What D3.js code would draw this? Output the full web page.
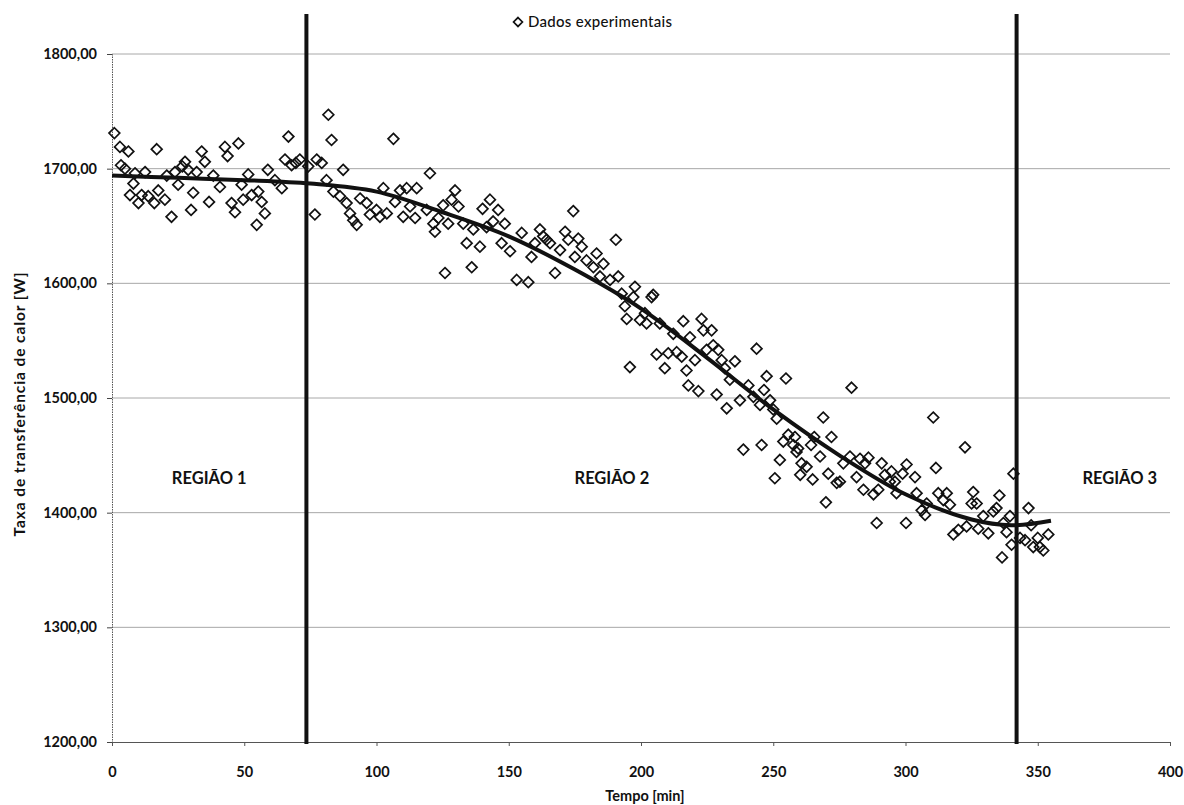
<!DOCTYPE html>
<html>
<head>
<meta charset="utf-8">
<script src="https://cdn.jsdelivr.net/npm/d3@7/dist/d3.min.js"></script>
<style>
  html, body { margin: 0; padding: 0; background: #fff; }
  svg { display: block; font-family: Lato, "Open Sans", sans-serif; }
</style>
</head>
<body>
<svg id="chart" width="1184" height="805"></svg>
<script>
// Experimental heat transfer rate readings: time [min] and rate [W]
const tempo = [
  0.9, 3, 3.4, 4.9, 6.2, 6.8, 8.1, 8.7, 10, 11.2, 12.5, 13.7, 16, 16.9, 17.5, 20, 20.7,
  22.5, 23.8, 25, 26.6, 27.6, 28.8, 29.9, 30.7, 32, 33.9, 35.1, 36.7, 38.3, 40.8, 42.7,
  43.7, 45.2, 46.5, 47.8, 49, 49.6, 51.5, 52.8, 54.7, 55.3, 56.6, 57.8, 58.9, 61.6, 64.2,
  65.4, 66.7, 67.9, 69.5, 71, 74.2,
  76.7, 77.4, 79.3, 81.1, 81.8, 83, 83.7, 86.2, 87.4, 88.7, 90, 91.2, 92.5, 93.8, 96.3,
  97.5, 100, 101.3, 102.6, 103.9, 106.4, 107, 108.9, 110.1, 111.4, 112.7, 114.6, 115.2,
  119, 120.2, 121.5, 122.1, 123.4, 125.2, 125.9, 127.1, 128.4, 129.7, 131, 132.8, 134.1,
  136, 136.6, 139.1, 140.1, 141.6, 142.9, 144.1, 146, 147.3, 148.5, 150.5, 153, 154.9,
  157.4, 158.6, 159.9, 161.8, 163, 164.3, 165.6, 167.5, 169.4, 171.3, 172.5, 174.4, 175,
  176.3, 177.6, 179.4, 182, 183.2, 184.5, 185.8, 188.3, 190.5, 191.4, 192.7, 193.9, 194.6,
  195.8, 197.1, 197.7, 199.6, 201.5, 202.1, 204, 204.6, 205.9, 207.1, 209, 210.3, 212.2,
  213.5, 215.4, 216, 217.2, 217.9, 218.5, 220.4, 221.7, 222.9, 223.6, 224.8, 226.7, 227.3,
  228.6, 229.2, 230.5, 231.7, 232.4, 233.6, 235.5, 237.4, 238.7, 240.6, 242.5, 243.7, 245,
  245.6, 246.5, 247.5, 248.8, 250, 250.6, 251.3, 252.5, 253.8, 254.8, 255.7, 257.6, 258.8,
  258.2, 259.4, 260.7, 260.2, 262.6, 264.3, 264.9, 265.5, 267.7, 268.9, 269.9, 270.8, 272,
  274, 275.2, 276.5, 279, 279.6, 281.5, 282.8, 284.1, 284.7, 286, 287.9, 289.1, 289.7, 291,
  292.2, 294.1, 294.7, 296, 296.6, 298.9, 300.2, 300.4, 303.6, 304.2, 306.1, 307.4, 308,
  310.5, 311.5, 312.4, 314.3, 315.6, 316.8, 318.1, 320, 322.5, 323.1, 325, 325.6, 326.9,
  327.5, 329.4, 331.3, 333.2, 334.4, 335.5, 336.5, 337, 338.2, 339.5, 340.1, 340.8,
  343.3, 345.2, 346.5, 347.5, 348.3, 350, 350.8, 352.1, 354
];
const taxa = [
  1731, 1719, 1703, 1700, 1715, 1677, 1687, 1696, 1670, 1677, 1697, 1676, 1670, 1717, 1681, 1673, 1694,
  1658, 1697, 1686, 1702, 1706, 1699, 1664, 1679, 1697, 1715, 1706, 1671, 1694, 1684, 1719,
  1711, 1670, 1662, 1722, 1686, 1673, 1695, 1677, 1651, 1680, 1671, 1661, 1699, 1690, 1683,
  1708, 1728, 1703, 1705, 1708, 1702,
  1660, 1708, 1705, 1690, 1747, 1725, 1680, 1676, 1699, 1670, 1661, 1655, 1651, 1674, 1670,
  1660, 1664, 1658, 1683, 1661, 1726, 1671, 1681, 1658, 1683, 1667, 1657, 1683,
  1664, 1696, 1652, 1645, 1657, 1668, 1609, 1652, 1673, 1681, 1667, 1652, 1635,
  1614, 1647, 1632, 1665, 1649, 1673, 1654, 1664, 1635, 1652, 1628, 1603, 1644,
  1601, 1623, 1635, 1647, 1641, 1638, 1635, 1609, 1629, 1645, 1638, 1663, 1623,
  1639, 1632, 1620, 1614, 1626, 1606, 1617, 1603, 1638, 1606, 1591, 1580, 1569,
  1527, 1588, 1597, 1568, 1574, 1565, 1588, 1590, 1538, 1565, 1526, 1539, 1556,
  1540, 1536, 1567, 1524, 1511, 1553, 1533, 1506, 1569, 1559, 1542, 1559, 1546,
  1503, 1542, 1533, 1526, 1491, 1516, 1532, 1498, 1455, 1511, 1501, 1543, 1494,
  1459, 1507, 1519, 1498, 1490, 1430, 1482, 1446, 1462, 1517, 1468, 1459, 1453,
  1466, 1456, 1443, 1433, 1440, 1459, 1429, 1466, 1449, 1483, 1409, 1434, 1466,
  1426, 1427, 1443, 1449, 1509, 1431, 1447, 1420, 1443, 1448, 1416, 1391, 1420, 1443,
  1433, 1427, 1436, 1427, 1417, 1434, 1391, 1442, 1431, 1417, 1402, 1398, 1408,
  1483, 1439, 1417, 1411, 1417, 1407, 1381, 1385, 1457, 1388, 1408, 1418, 1408,
  1386, 1397, 1382, 1401, 1404, 1415, 1361, 1391, 1383, 1397, 1372, 1434,
  1378, 1376, 1404, 1389, 1370, 1378, 1370, 1367, 1381
];

// Polynomial trend line, sampled along the time axis
const trendTempo = [0, 25, 50, 75, 100, 125, 150, 175, 200, 225, 250, 275, 300, 325, 340, 355];
const trendTaxa  = [1694, 1692, 1690, 1687, 1680, 1662, 1641, 1612, 1578, 1535, 1490, 1450, 1416, 1394, 1389, 1393];

// Region boundaries [min]
const limites = [73.5, 342];
const regioes = ["REGIÃO 1", "REGIÃO 2", "REGIÃO 3"];
const regiaoTempo = [36.75, 189, 381];
const regiaoTaxa = 1430;

const xTicks = [0, 50, 100, 150, 200, 250, 300, 350, 400];
const yTicks = [1200, 1300, 1400, 1500, 1600, 1700, 1800];

const svg = d3.select("#chart");
const plotLeft = 112, plotRight = 1170, plotTop = 54, plotBottom = 742;

const x = d3.scaleLinear().domain([0, 400]).range([plotLeft, plotRight]);
const y = d3.scaleLinear().domain([1200, 1800]).range([plotBottom, plotTop]);

const fmt = d3.formatLocale({ decimal: ",", thousands: ".", grouping: [3], currency: ["", ""] }).format(".2f");

// Horizontal gridlines
svg.append("g")
  .selectAll("line")
  .data(yTicks.filter(d => d > 1200))
  .join("line")
  .attr("x1", plotLeft).attr("x2", plotRight)
  .attr("y1", d => y(d)).attr("y2", d => y(d))
  .attr("stroke", "#a8a8a8")
  .attr("stroke-width", 1);

// Y axis
const yAxis = svg.append("g")
  .attr("transform", `translate(${plotLeft},0)`)
  .call(d3.axisLeft(y).tickValues(yTicks).tickFormat(fmt).tickSize(5).tickPadding(10));
yAxis.select(".domain").attr("stroke", "#555").attr("stroke-dasharray", "1.5,1");
yAxis.selectAll(".tick line").attr("stroke", "#444");
yAxis.selectAll("text")
  .attr("font-size", 14.5).attr("font-weight", "bold").attr("fill", "#111")
  .attr("font-family", "Lato, sans-serif");

// X axis
const xAxis = svg.append("g")
  .attr("transform", `translate(0,${plotBottom})`)
  .call(d3.axisBottom(x).tickValues(xTicks).tickSize(4).tickPadding(21));
xAxis.select(".domain").attr("stroke", "#555");
xAxis.selectAll(".tick line").attr("stroke", "#555");
xAxis.selectAll("text")
  .attr("font-size", 14.5).attr("font-weight", "bold").attr("fill", "#111")
  .attr("font-family", "Lato, sans-serif");

// Axis titles
svg.append("text")
  .attr("x", (plotLeft + plotRight) / 2 + 4).attr("y", 801)
  .attr("text-anchor", "middle")
  .attr("font-size", 14.5).attr("font-weight", "bold").attr("fill", "#111")
  .text("Tempo [min]");

svg.append("text")
  .attr("transform", `translate(25,${(plotTop + plotBottom) / 2 + 6}) rotate(-90)`)
  .attr("text-anchor", "middle")
  .attr("font-size", 15.5).attr("font-weight", "bold").attr("fill", "#111")
  .attr("letter-spacing", 0.9)
  .text("Taxa de transferência de calor [W]");

// Region boundaries
svg.append("g")
  .selectAll("line")
  .data(limites)
  .join("line")
  .attr("x1", d => x(d)).attr("x2", d => x(d))
  .attr("y1", 14).attr("y2", plotBottom + 2)
  .attr("stroke", "#111")
  .attr("stroke-width", 4);

// Region labels
svg.append("g")
  .selectAll("text")
  .data(regioes)
  .join("text")
  .attr("x", (d, i) => x(regiaoTempo[i]))
  .attr("y", y(regiaoTaxa) + 6)
  .attr("text-anchor", "middle")
  .attr("font-size", 16.5).attr("font-weight", "bold").attr("fill", "#111")
  .text(d => d);

// Diamond markers
const diamond = d3.symbol().type(d3.symbolDiamond2).size(74);
svg.append("g")
  .selectAll("path")
  .data(tempo.map((t, i) => [t, taxa[i]]))
  .join("path")
  .attr("d", diamond)
  .attr("transform", d => `translate(${x(d[0])},${y(d[1])})`)
  .attr("fill", "none")
  .attr("stroke", "#111")
  .attr("stroke-width", 1.7);

// Trend line
const line = d3.line()
  .x(d => x(d[0]))
  .y(d => y(d[1]))
  .curve(d3.curveCatmullRom);
svg.append("path")
  .datum(trendTempo.map((t, i) => [t, trendTaxa[i]]))
  .attr("d", line)
  .attr("fill", "none")
  .attr("stroke", "#111")
  .attr("stroke-width", 4);

// Legend
const legend = svg.append("g").attr("transform", "translate(518,22)");
legend.append("path")
  .attr("d", d3.symbol().type(d3.symbolDiamond2).size(50))
  .attr("fill", "none").attr("stroke", "#111").attr("stroke-width", 1.7);
legend.append("text")
  .attr("x", 10).attr("y", 5)
  .attr("font-size", 15).attr("font-weight", 500).attr("fill", "#111")
  .attr("letter-spacing", 0.3)
  .text("Dados experimentais");
</script>
</body>
</html>
